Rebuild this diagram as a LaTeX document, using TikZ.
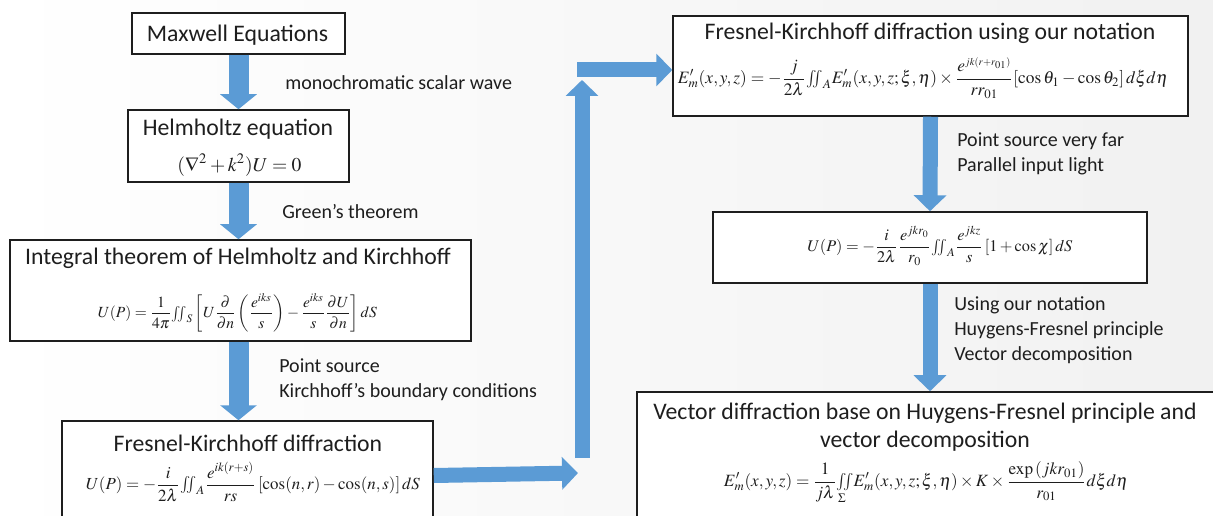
\documentclass[tikz,border=0pt]{standalone}
\usepackage{amsmath}
\usepackage{mathptmx}
\usepackage[no-math]{fontspec}
\setmainfont{Carlito}
\usetikzlibrary{arrows.meta,calc}
\newdimen\pxu \pxu=0.75pt
\definecolor{arrowblue}{RGB}{91,155,213}
\definecolor{bgcol}{RGB}{241,241,241}
\definecolor{inkcol}{RGB}{30,30,30}
\newcommand{\fw}[2]{\resizebox{#1\pxu}{!}{$\displaystyle #2$}}
\newcommand{\tint}{{\textstyle\iint}}
\begin{document}
\begin{tikzpicture}[x=0.75pt,y=-0.75pt,
  boxst/.style={draw=inkcol, line width=1.125pt, fill=white, inner sep=0pt},
  titlest/.style={inner sep=0pt, text=inkcol, font=\fontsize{17.8}{21}\selectfont, align=center},
  labelst/.style={inner sep=0pt, text=inkcol, font=\fontsize{15}{18.75}\selectfont, align=left, anchor=west},
  eqst/.style={inner sep=0pt, text=inkcol},
  bigarrow/.style={draw=arrowblue, line width=15pt, -{Triangle[width=27pt,length=11.25pt]}},
  blockarrow/.style={draw=arrowblue, line width=11.25pt, -{Triangle[width=24pt,length=12pt]}},
]
\shade[left color=white, right color=bgcol] (0,0) rectangle (1213,516);
\useasboundingbox (0,0) rectangle (1213,516);

% boxes
\node[boxst, minimum width=159.75pt, minimum height=30.75pt] (maxw) at (238.5,33.5) {};
\node[boxst, minimum width=165.75pt, minimum height=54pt] (helm) at (238.5,146) {};
\node[boxst, minimum width=345.75pt, minimum height=75.75pt] (integ) at (240.5,290.5) {};
\node[boxst, minimum width=278.25pt, minimum height=81.75pt] (fk) at (247.5,475.5) {};
\node[boxst, minimum width=386.25pt, minimum height=75pt] (fkn) at (930.5,66) {};
\node[boxst, minimum width=325.5pt, minimum height=53.25pt] (upb) at (930,247.5) {};
\node[boxst, minimum width=435.75pt, minimum height=103.5pt] (vec) at (927.5,461) {};

% titles
\node[titlest] (tmaxw) at (237.5,35) {Maxwell Equations};
\node[titlest] (thelm) at (238,129) {Helmholtz equation};
\node[titlest] (tinteg) at (238,258) {Integral theorem of Helmholtz and Kirchhoff};
\node[titlest] (tfk) at (248,443) {Fresnel-Kirchhoff diffraction};
\node[titlest] (tfkn) at (930,33) {Fresnel-Kirchhoff diffraction using our notation};
\node[titlest] (tvec) at (925,427) {Vector diffraction base on Huygens-Fresnel principle and\\vector decomposition};

% formulas
\node[eqst] (ehelm) at (239.5,165) {\fw{124}{(\nabla^2+k^2)U=0}};
\node[eqst] (einteg) at (237.5,313) {\fw{279}{U(P)=\frac{1}{4\pi}\tint_S\left[U\frac{\partial}{\partial n}\left(\frac{e^{iks}}{s}\right)-\frac{e^{iks}}{s}\frac{\partial U}{\partial n}\right]dS}};
\node[eqst] (efk) at (253,482) {\fw{334}{U(P)=-\frac{i}{2\lambda}\tint_A\frac{e^{ik(r+s)}}{rs}\left[\cos(n,r)-\cos(n,s)\right]dS}};
\node[eqst] (efkn) at (923,78) {\fw{490}{E'_m(x,y,z)=-\frac{j}{2\lambda}\tint_A E'_m(x,y,z;\xi,\eta)\times\frac{e^{\scriptscriptstyle jk(r+r_{01})}}{rr_{01}}[\cos\theta_1-\cos\theta_2]\,d\xi d\eta}};
\node[eqst] (eupb) at (940,246) {\fw{265}{U(P)=-\frac{i}{2\lambda}\frac{e^{jkr_0}}{r_0}\tint_A\frac{e^{jkz}}{s}\left[1+\cos\chi\right]dS}};
\node[eqst] (evec) at (926,483) {\fw{404}{E'_m(x,y,z)=\frac{1}{j\lambda}{\textstyle\iint\limits_{\Sigma}}E'_m(x,y,z;\xi,\eta)\times K\times\frac{\exp\left(jkr_{01}\right)}{r_{01}}d\xi d\eta}};

% labels
\node[labelst] (l1) at (285,83) {monochromatic scalar wave};
\node[labelst] (l2) at (282,212) {Green’s theorem};
\node[labelst] (l3) at (279,379.5) {Point source\\Kirchhoff’s boundary conditions};
\node[labelst] (l4) at (957,153.5) {Point source very far\\Parallel input light};
\node[labelst] (l5) at (954,330) {Using our notation\\Huygens-Fresnel principle\\Vector decomposition};

% connector coordinates
\coordinate (c1) at (578,473);
\coordinate (c2) at (582,458);
\coordinate (c3) at (582,80);
\coordinate (c4) at (577,70);

% arrows
\draw[bigarrow] (maxw.south) -- (maxw.south |- helm.north);
\draw[bigarrow] (helm.south) -- (helm.south |- integ.north);
\draw[bigarrow] (integ.south -| helm.south) -- (helm.south |- fk.north);
\draw[blockarrow] (fk.east) -- (c1);
\draw[blockarrow] (c2) -- (c3);
\draw[blockarrow] (c4) -- (c4 -| fkn.west);
\draw[blockarrow] (fkn.south) -- (upb.north);
\draw[blockarrow] (upb.south) -- (upb.south |- vec.north);
\end{tikzpicture}
\end{document}
